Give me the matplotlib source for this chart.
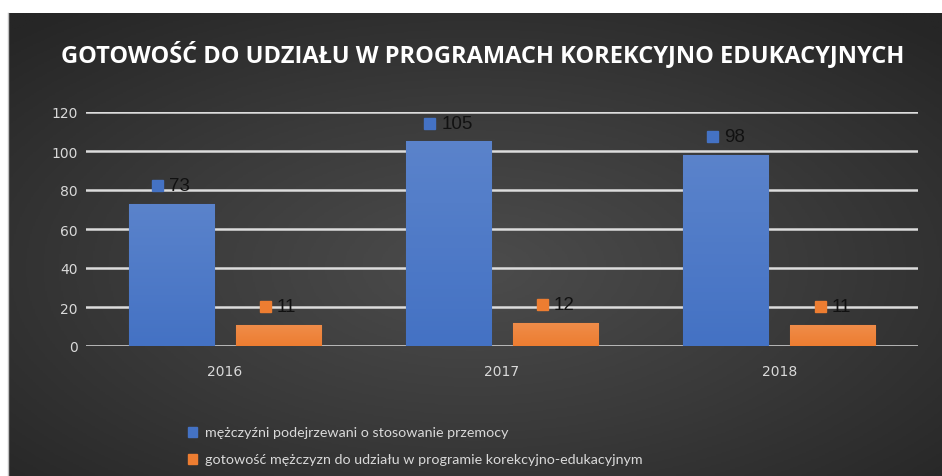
import numpy as np
import matplotlib
matplotlib.use("Agg")
import matplotlib.pyplot as plt
from matplotlib.colors import LinearSegmentedColormap, to_rgb
from matplotlib.patches import Rectangle

# dane
lata = ["2016", "2017", "2018"]
podejrzewani = [73, 105, 98]
gotowosc = [11, 12, 11]
serie = ["mężczyźni podejrzewani o stosowanie przemocy",
         "gotowość mężczyzn do udziału w programie korekcyjno-edukacyjnym"]
tytul = "GOTOWOŚĆ DO UDZIAŁU W PROGRAMACH KOREKCYJNO EDUKACYJNYCH"
yticks = [0, 20, 40, 60, 80, 100, 120]

niebieski = "#4472c4"
pomaranczowy = "#ed7d31"

W, H = 942, 477
fig = plt.figure(figsize=(W / 100, H / 100), dpi=100)
fig.patch.set_facecolor("white")

# tlo - gradient radialny
bg = fig.add_axes([8 / W, 0, (W - 8) / W, (H - 14) / H])
yy, xx = np.mgrid[0:1:300j, 0:1:600j]
r = np.sqrt(((xx - 0.5) / 0.75) ** 2 + ((yy - 0.45) / 0.75) ** 2)
r = np.clip(r / 0.95, 0, 1)
cmap_bg = LinearSegmentedColormap.from_list("bg", ["#4c4c4c", "#3a3a3a", "#262626"])
bg.imshow(r, cmap=cmap_bg, aspect="auto", extent=[0, 1, 0, 1], origin="lower")
bg.set_axis_off()
fig.add_artist(plt.Line2D([7.5 / W, 7.5 / W], [0, (H - 14) / H], color="#bfbfbf", lw=1))

ax = fig.add_axes([86 / W, 1 - 347 / H, (918 - 86) / W, (347 - 113) / H])
ax.patch.set_alpha(0)

x = np.arange(len(lata))
szer = 0.307
off = 0.193

def gradient_bars(bars, color):
    c = np.array(to_rgb(color))
    top = c + (1 - c) * 0.12
    cm = LinearSegmentedColormap.from_list("g", [c, top])
    for b in bars:
        x0, y0 = b.get_x(), b.get_y()
        im = ax.imshow(np.linspace(0, 1, 50).reshape(-1, 1), cmap=cm, origin="lower",
                       extent=[x0, x0 + b.get_width(), y0, y0 + b.get_height()],
                       aspect="auto", zorder=3)
        im.set_clip_path(b)

b1 = ax.bar(x - off, podejrzewani, szer, color=niebieski, edgecolor="#3a5fa0", lw=0.8, zorder=3)
b2 = ax.bar(x + off, gotowosc, szer, color=pomaranczowy, edgecolor="#c8682a", lw=0.8, zorder=3)
gradient_bars(b1, niebieski)
gradient_bars(b2, pomaranczowy)
ax.set_xlim(-0.5, 2.5)
ax.set_ylim(0, 120)

ax.set_yticks(yticks)
ax.set_xticks(x)
ax.set_xticklabels(lata)
ax.grid(axis="y", color="#dcdcdc", lw=1.8, zorder=1)
ax.tick_params(length=0, colors="#d9d9d9", labelsize=10, pad=6)
ax.tick_params(axis="x", pad=13)
for t in ax.get_xticklabels() + ax.get_yticklabels():
    t.set_family("DejaVu Sans")
for s in ax.spines.values():
    s.set_visible(False)

# etykiety danych z kwadratem (kwadrat + liczba wysrodkowane nad słupkiem)
kw = 11   # bok kwadratu w px
odst = 6  # odstep kwadrat-tekst
fig.canvas.draw()
rend = fig.canvas.get_renderer()
for bars, vals, col in [(b1, podejrzewani, niebieski), (b2, gotowosc, pomaranczowy)]:
    for b, v in zip(bars, vals):
        cx = b.get_x() + b.get_width() / 2
        t = ax.annotate(str(v), (cx, v), xytext=(0, 18), textcoords="offset pixels",
                        ha="left", va="center", fontsize=13.5, color="#111111",
                        family="Liberation Sans", zorder=5)
        tw = t.get_window_extent(rend).width
        total = kw + odst + tw
        t.set_position((-total / 2 + kw + odst, 18))
        px, py = ax.transData.transform((cx, v))
        sx = px - total / 2
        fig.add_artist(Rectangle(((sx) / W, (py + 18 - kw / 2) / H), kw / W, kw / H,
                                 color=col, transform=fig.transFigure, zorder=5))

fig.text(483 / W, 1 - 55 / H, tytul, ha="center", va="center", color="white",
         fontsize=17, fontweight="bold", family="Open Sans")

# legenda
for i, (lab, col) in enumerate(zip(serie, [niebieski, pomaranczowy])):
    yc = 1 - (433 + 27 * i) / H
    fig.add_artist(Rectangle((188 / W, yc - 5 / H), 9 / W, 10 / H, color=col,
                             transform=fig.transFigure))
    fig.text(205 / W, yc, lab, ha="left", va="center", color="#d9d9d9",
             fontsize=10.3, family="Lato")

fig.savefig("out.png", dpi=100)
